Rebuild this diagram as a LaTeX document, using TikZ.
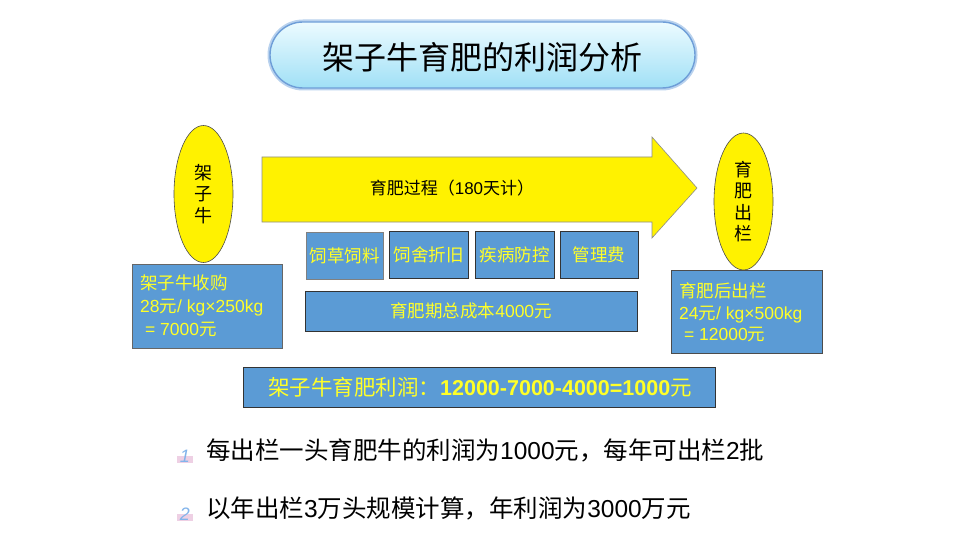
\documentclass[tikz,border=0pt]{standalone}
\usepackage{fontspec}
\setmainfont{Noto Sans CJK SC}
\newfontfamily\arialf{Liberation Sans}
\newcommand{\lat}[1]{{\arialf #1}}
\usetikzlibrary{shapes.geometric}
\definecolor{boxblue}{RGB}{91,155,213}
\definecolor{txtyellow}{RGB}{255,255,40}
\definecolor{pillborder}{RGB}{110,158,216}
\definecolor{pillglow}{RGB}{185,210,238}
\definecolor{pilltop}{RGB}{236,251,255}
\definecolor{pillbot}{RGB}{160,224,246}
\definecolor{bulletblue}{RGB}{130,180,235}
\definecolor{bulletpink}{RGB}{238,208,228}
\tikzset{
  x=1pt, y=-1pt,
  bluebox/.style={draw=black!80, line width=0.8pt, fill=boxblue, inner sep=0pt},
  boxtext/.style={text=txtyellow, font=\fontsize{17.5}{23}\selectfont, inner sep=0pt},
  oval/.style={ellipse, draw=black!70, line width=0.6pt, fill=yellow, minimum width=59pt, minimum height=137pt, inner sep=0pt},
  ovaltext/.style={align=center, inner sep=0pt, font=\fontsize{18}{21.5}\selectfont},
  bullettext/.style={anchor=west, inner sep=0pt, font=\fontsize{24.5}{28}\selectfont},
  bulletnum/.style={text=bulletblue, font=\fontsize{18}{18}\selectfont\arialf\itshape, inner sep=0pt}
}
\begin{document}
\begin{tikzpicture}
\useasboundingbox (0,0) rectangle (960,540);
\fill[white] (0,0) rectangle (960,540);

% title pill
\draw[line width=5pt, pillglow, rounded corners=33pt] (270,22) rectangle (695,88);
\shade[top color=pilltop, bottom color=pillbot, rounded corners=33pt] (270,22) rectangle (695,88);
\draw[line width=1.4pt, pillborder, rounded corners=33pt] (270,22) rectangle (695,88);
\node[inner sep=0pt, font=\fontsize{32}{36}\selectfont] (title) at (482,57) {架子牛育肥的利润分析};

% left ellipse
\node[oval] (calf) at (203.5,194) {};
\node[ovaltext] (calftext) at (calf.center) {架\\子\\牛};

% right ellipse
\node[oval] (fat) at (743.5,201.5) {};
\node[ovaltext] (fattext) at (fat.center) {育\\肥\\出\\栏};

% big arrow
\draw[fill=yellow, draw=black!45, line width=0.6pt] (262,157) -- (652,157) -- (652,137) -- (697,188) -- (652,238) -- (652,222) -- (262,222) -- cycle;
\node[inner sep=0pt, font=\fontsize{17}{20}\selectfont] (process) at (452,188) {育肥过程（\lat{180}天计）};

% left blue box
\draw[bluebox, draw=black!60] (132,264) rectangle (282,348);
\node[boxtext, anchor=west, align=left] (buy) at (140,306) {架子牛收购\\\lat{28}元\lat{/ kg×250kg}\\\lat{\ = 7000}元};

% right blue box
\draw[bluebox, draw=black!70] (671,270) rectangle (822,353);
\node[boxtext, anchor=west, align=left, font=\fontsize{17.5}{21.5}\selectfont] (sell) at (679,312.5) {育肥后出栏\\\lat{24}元\lat{/ kg×500kg}\\\lat{\ = 12000}元};

% four cost boxes
\draw[bluebox, draw=black!50] (306,232) rectangle (383,279);
\node[boxtext] (c1) at (344.5,255.5) {饲草饲料};
\draw[bluebox] (389,231) rectangle (468,278);
\node[boxtext] (c2) at (428.5,254.5) {饲舍折旧};
\draw[bluebox] (475,231) rectangle (554,278);
\node[boxtext] (c3) at (514.5,254.5) {疾病防控};
\draw[bluebox] (560,231) rectangle (638,278);
\node[boxtext] (c4) at (599,254.5) {管理费};

% total cost box
\draw[bluebox] (305,291) rectangle (637,331);
\node[boxtext] (total) at (471,311) {育肥期总成本\lat{4000}元};

% profit box
\draw[bluebox] (243,367) rectangle (715,407);
\node[boxtext, font=\fontsize{21.5}{24}\selectfont] (profit) at (480,387) {架子牛育肥利润：{\arialf\bfseries 12000-7000-4000=1000}元};

% bullets
\fill[bulletpink] (177,456) rectangle (193,463);
\node[bulletnum] (b1) at (185,456) {1};
\fill[bulletpink] (177,514) rectangle (193,521);
\node[bulletnum] (b2) at (185,514) {2};
\node[bullettext] (l1) at (206,450) {每出栏一头育肥牛的利润为\lat{1000}元，每年可出栏\lat{2}批};
\node[bullettext] (l2) at (206,508) {以年出栏\lat{3}万头规模计算，年利润为\lat{3000}万元};
\end{tikzpicture}
\end{document}
